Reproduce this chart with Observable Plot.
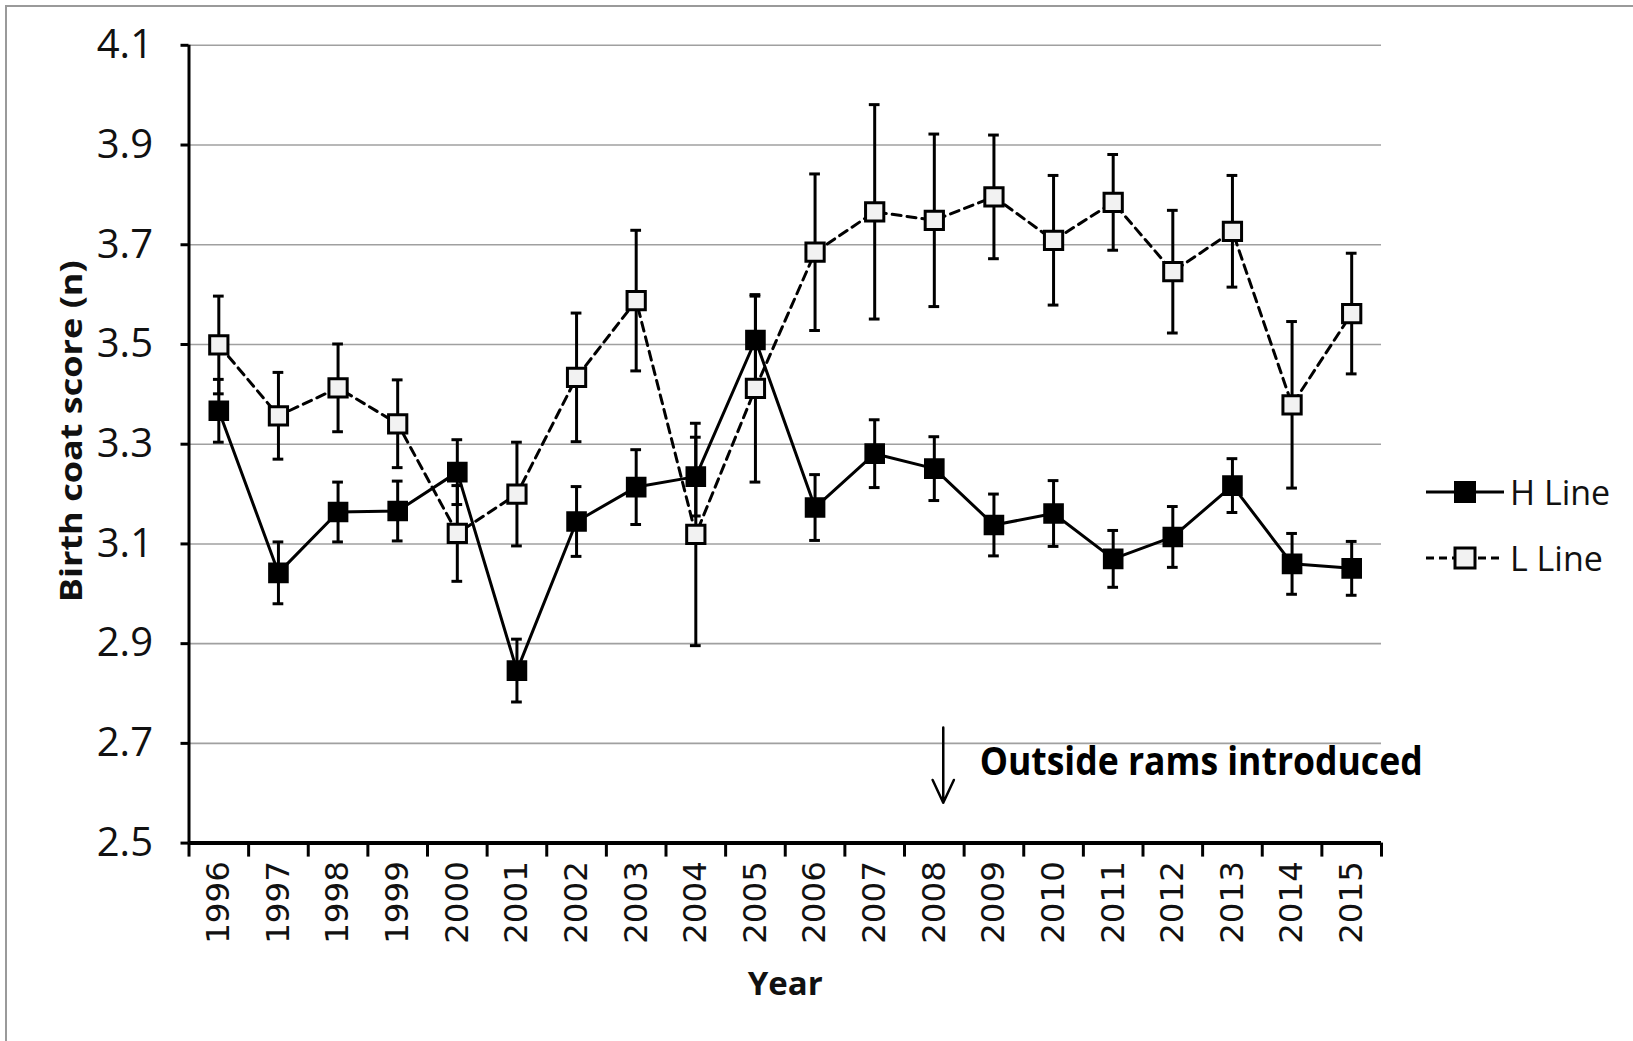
<!DOCTYPE html>
<html>
<head>
<meta charset="utf-8">
<script src="https://cdn.jsdelivr.net/npm/d3@7"></script>
<script src="https://cdn.jsdelivr.net/npm/@observablehq/plot@0.6"></script>
<style>
  html, body { margin: 0; padding: 0; background: #fff; overflow: hidden; }
  #wrap { position: relative; width: 1633px; height: 1041px; }
  #frame { position: absolute; left: 5px; top: 5px; right: -10px; bottom: -10px;
           border-left: 2px solid #9a9a9a; border-top: 2px solid #9a9a9a; pointer-events: none; }
  #legend { position: absolute; left: 1424px; top: 470px; font-family: "Open Sans", sans-serif;
            font-size: 34px; color: #111; }
  .row { display: flex; align-items: center; height: 44px; margin-bottom: 22px; }
  .row svg { margin-right: 4px; }
</style>
</head>
<body>
<div id="wrap">
  <div id="chart"></div>
  <div id="frame"></div>
  <div id="legend">
    <div class="row">
      <svg width="82" height="30"><line x1="2" y1="15" x2="80" y2="15" stroke="#000" stroke-width="3"/><rect x="31" y="5" width="20" height="20" fill="#000" stroke="#000" stroke-width="2"/></svg>
      <span>H Line</span>
    </div>
    <div class="row">
      <svg width="82" height="30"><line x1="2" y1="15" x2="80" y2="15" stroke="#000" stroke-width="3" stroke-dasharray="8,5"/><rect x="31" y="5" width="20" height="20" fill="#f2f2f2" stroke="#000" stroke-width="3"/></svg>
      <span>L Line</span>
    </div>
  </div>
</div>
<script>
// ---- data ----
const years = [1996, 1997, 1998, 1999, 2000, 2001, 2002, 2003, 2004, 2005,
               2006, 2007, 2008, 2009, 2010, 2011, 2012, 2013, 2014, 2015];
const hMean = [3.367, 3.042, 3.164, 3.166, 3.244, 2.846, 3.145, 3.214, 3.235, 3.509,
               3.173, 3.281, 3.251, 3.138, 3.161, 3.070, 3.114, 3.217, 3.060, 3.051];
const hSE   = [0.063, 0.062, 0.060, 0.060, 0.065, 0.063, 0.070, 0.075, 0.079, 0.088,
               0.066, 0.068, 0.064, 0.062, 0.066, 0.057, 0.061, 0.054, 0.061, 0.054];
const lMean = [3.499, 3.357, 3.413, 3.341, 3.121, 3.200, 3.434, 3.588, 3.119, 3.412,
               3.685, 3.766, 3.749, 3.796, 3.709, 3.785, 3.646, 3.727, 3.379, 3.562];
const lSE   = [0.098, 0.087, 0.088, 0.088, 0.096, 0.104, 0.129, 0.141, 0.223, 0.188,
               0.157, 0.215, 0.173, 0.124, 0.130, 0.096, 0.123, 0.112, 0.167, 0.121];
const yTicks = [2.5, 2.7, 2.9, 3.1, 3.3, 3.5, 3.7, 3.9, 4.1];
const annotation = [{x: 2008.15, y1: 2.732, y2: 2.581, tx: 2008.76, ty: 2.663, label: "Outside rams introduced"}];

// ---- tables ----
const H = years.map((year, i) => ({year, mean: hMean[i], lo: hMean[i] - hSE[i], hi: hMean[i] + hSE[i]}));
const L = years.map((year, i) => ({year, mean: lMean[i], lo: lMean[i] - lSE[i], hi: lMean[i] + lSE[i]}));
const boundaries = years.map(y => y - 0.5).concat([years[years.length - 1] + 0.5]);
const capHalf = 0.09;

function errorMarks(data) {
  return [
    Plot.ruleX(data, {x: "year", y1: "lo", y2: "hi", stroke: "#000", strokeWidth: 3}),
    Plot.ruleY(data, {y: "lo", x1: d => d.year - capHalf, x2: d => d.year + capHalf, stroke: "#000", strokeWidth: 3}),
    Plot.ruleY(data, {y: "hi", x1: d => d.year - capHalf, x2: d => d.year + capHalf, stroke: "#000", strokeWidth: 3})
  ];
}

const chart = Plot.plot({
  width: 1633,
  height: 1041,
  marginLeft: 188.5,
  marginRight: 252,
  marginTop: 44.8,
  marginBottom: 198.4,
  x: {type: "linear", domain: [boundaries[0], boundaries[boundaries.length - 1]]},
  y: {domain: [yTicks[0], yTicks[yTicks.length - 1]]},
  style: {background: "transparent", fontFamily: "'Open Sans', sans-serif", color: "#000"},
  marks: [
    Plot.gridY(yTicks.slice(1), {stroke: "#a0a0a0", strokeOpacity: 1, strokeWidth: 1.6}),
    Plot.axisY({ticks: yTicks, tickSize: 8, tickPadding: 28, tickFormat: d3.format(".1f"),
                fontSize: 40, label: null, strokeWidth: 3, fill: "#111"}),
    Plot.axisX({ticks: boundaries, tickSize: 14, tickFormat: () => "", strokeWidth: 3, label: null}),
    Plot.axisX({ticks: years, tickSize: 0, tickPadding: 18, tickRotate: -90, fontSize: 32.5,
                fontFamily: "'DejaVu Sans', sans-serif", fill: "#111", label: null, tickFormat: d => String(d)}),
    Plot.ruleX([boundaries[0]], {stroke: "#000", strokeWidth: 3}),
    Plot.ruleY([yTicks[0]], {stroke: "#000", strokeWidth: 4}),
    Plot.line(H, {x: "year", y: "mean", stroke: "#000", strokeWidth: 3}),
    Plot.line(L, {x: "year", y: "mean", stroke: "#000", strokeWidth: 3, strokeDasharray: "9,6"}),
    ...errorMarks(H),
    ...errorMarks(L),
    Plot.dot(H, {x: "year", y: "mean", symbol: "square", r: 10.5, fill: "#000", stroke: "#000", strokeWidth: 2}),
    Plot.dot(L, {x: "year", y: "mean", symbol: "square", r: 10.3, fill: "#f2f2f2", stroke: "#000", strokeWidth: 3}),
    Plot.arrow(annotation, {x1: "x", x2: "x", y1: "y1", y2: "y2", stroke: "#000", strokeWidth: 2.5,
                            headLength: 16, headAngle: 50}),
    Plot.text(annotation, {x: "tx", y: "ty", text: "label", textAnchor: "start", lineAnchor: "middle",
                           fontSize: 40, fontWeight: "bold", fill: "#000", className: "annot"}),
    Plot.text(["Year"], {frameAnchor: "bottom", dy: 141, text: d => d, fontSize: 33, fontWeight: "bold",
                         fill: "#111", lineAnchor: "middle"}),
    Plot.text(["Birth coat score (n)"], {frameAnchor: "left", dx: -117, dy: 158, rotate: -90, text: d => d,
                         textAnchor: "start", fontSize: 30, fontWeight: "bold", fill: "#111",
                         lineAnchor: "middle", className: "ytitle"})
  ]
});

document.getElementById("chart").appendChild(chart);
d3.select(chart).selectAll(".annot text").attr("textLength", 443).attr("lengthAdjust", "spacingAndGlyphs");
d3.select(chart).selectAll(".ytitle text").attr("textLength", 342).attr("lengthAdjust", "spacingAndGlyphs");
</script>
</body>
</html>
